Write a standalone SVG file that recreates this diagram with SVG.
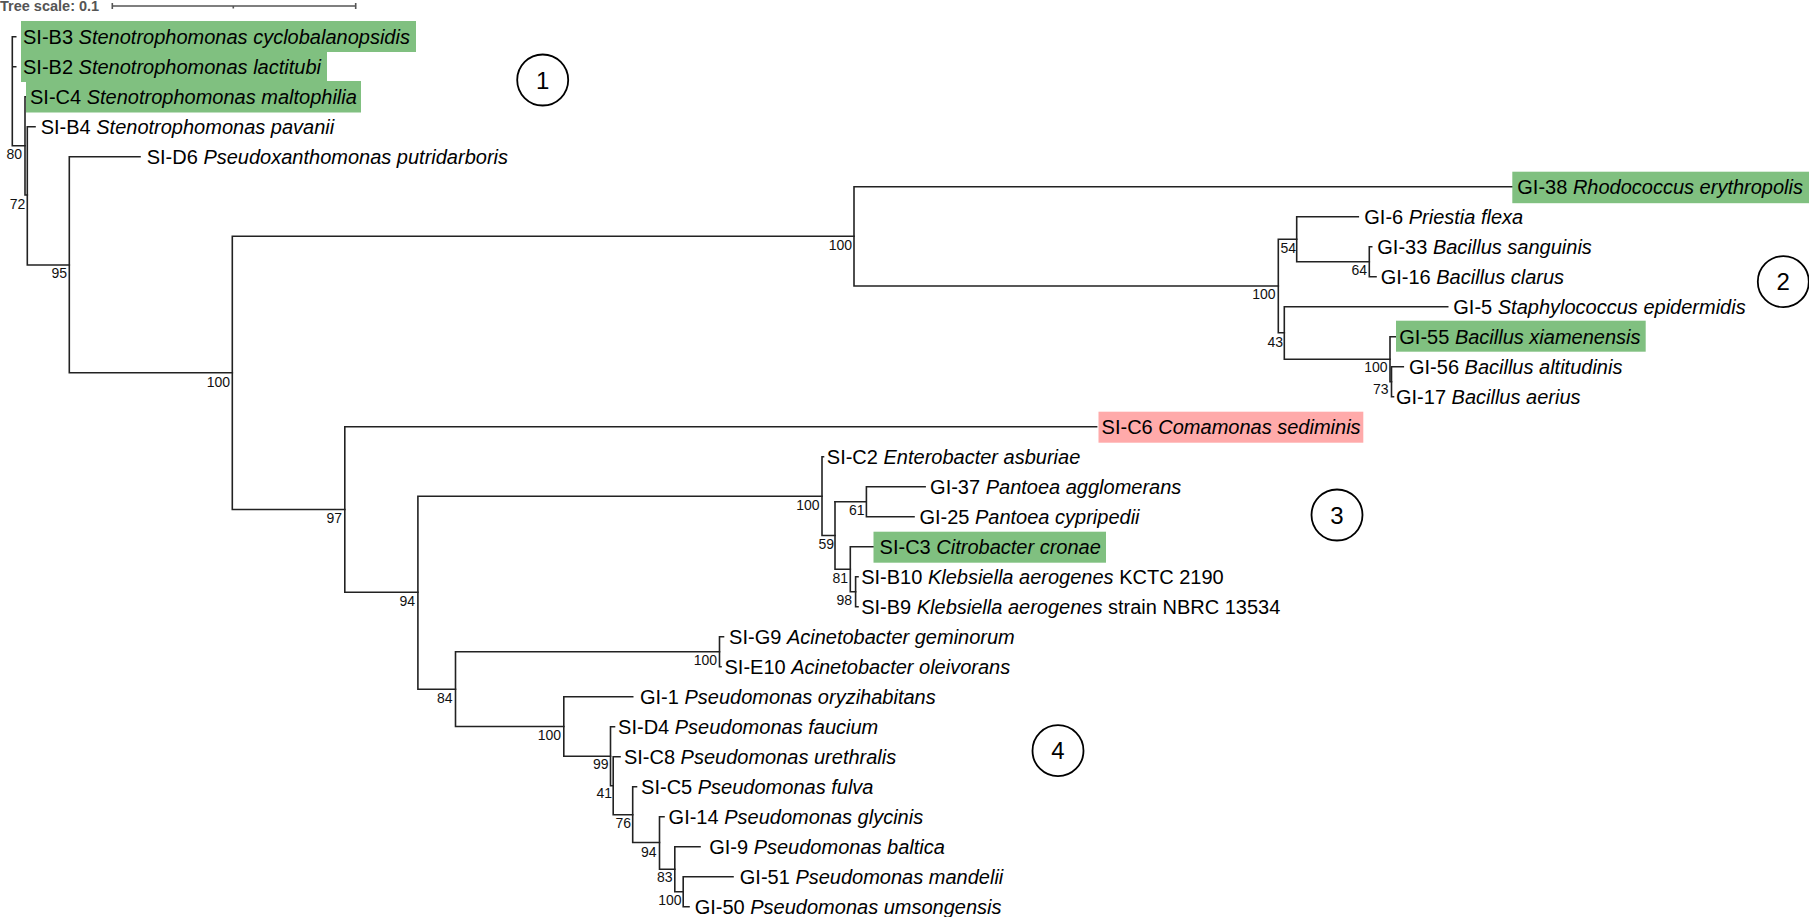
<svg xmlns="http://www.w3.org/2000/svg" width="1809" height="917" viewBox="0 0 1809 917">
<style>
  .br { fill: none; stroke: #222; stroke-width: 1.6; stroke-linecap: square; }
  .lbl { font-family: "Liberation Sans", Arial, sans-serif; font-size: 20px; fill: #000; }
  .it { font-style: italic; }
  .sup { font-family: "Liberation Sans", Arial, sans-serif; font-size: 14px; fill: #111; text-anchor: end; }
  .hg { fill: #80c080; }
  .hp { fill: #ffaaaa; }
  .circ { fill: none; stroke: #000; stroke-width: 1.8; }
  .cnum { font-family: "Liberation Sans", Arial, sans-serif; font-size: 24px; fill: #000; text-anchor: middle; }
  .scale { stroke: #555; stroke-width: 1.6; fill: none; }
  .stxt { font-family: "Liberation Sans", Arial, sans-serif; font-size: 14.5px; font-weight: bold; fill: #555; }
</style>

<g id="tree-scale">
  <text class="stxt" x="0" y="11">Tree scale: 0.1</text>
  <path class="scale" d="M112.3 6H355.7 M112.3 3V9 M355.7 3V9 M233.3 6V8.5"/>
</g>

<g id="connectors">
  <path class="br" d="M15.7 36.7H12.3V145.7H25 M12.3 66.7H15.7"/>
  <path class="br" d="M25.8 96.7H25V195H27.3"/>
  <path class="br" d="M35 126.7H27.3V265H69.3"/>
  <path class="br" d="M140 156.7H69.3V372.7H232.3"/>
  <path class="br" d="M854 236.3H232.3V509.5H344.8"/>
  <path class="br" d="M1512.3 186.7H854V286H1278.3"/>
  <path class="br" d="M1296.7 239.3H1278.3V332.7H1284.3"/>
  <path class="br" d="M1358.3 216.7H1296.7V261.7H1369.3"/>
  <path class="br" d="M1371.7 246.7H1369.3V276.7H1376"/>
  <path class="br" d="M1447.7 306.7H1284.3V359.2H1390"/>
  <path class="br" d="M1396 336.7H1390V381.7H1391.5"/>
  <path class="br" d="M1403.3 366.7H1391.5V396.7H1393.5"/>
  <path class="br" d="M1096.6 426.7H344.8V592.3H417.9"/>
  <path class="br" d="M822 496.2H417.9V689.2H455.5"/>
  <path class="br" d="M823.5 456.7H822V535.5H835"/>
  <path class="br" d="M925.1 486.7H866.4V516.7H914 M835 501.7H866.4"/>
  <path class="br" d="M835 501.7V569.2H850.3"/>
  <path class="br" d="M873.5 546.7H850.3V591.7H855.6"/>
  <path class="br" d="M858 576.7H855.6V606.7H858"/>
  <path class="br" d="M719.5 651.7H455.5V726.5H563.8"/>
  <path class="br" d="M723.5 636.7H719.5V666.7H721"/>
  <path class="br" d="M632.7 696.7H563.8V756.2H610.5"/>
  <path class="br" d="M614.5 726.7H610.5V785.7H613.2"/>
  <path class="br" d="M620 756.7H613.2V814.7H632.7"/>
  <path class="br" d="M636.5 786.7H632.7V842.5H659.5"/>
  <path class="br" d="M664 816.7H659.5V869.2H674.8"/>
  <path class="br" d="M700 846.7H674.8V891.7H683.2"/>
  <path class="br" d="M733 876.7H683.2V906.7H689"/>
</g>

<g id="leaf-SI-B3"><rect class="hg" x="21" y="21" width="395" height="31"/><text class="lbl" x="23" y="43.7">SI-B3 <tspan class="it">Stenotrophomonas cyclobalanopsidis</tspan></text></g>
<g id="leaf-SI-B2"><rect class="hg" x="21" y="52" width="306" height="30"/><text class="lbl" x="23" y="73.7">SI-B2 <tspan class="it">Stenotrophomonas lactitubi</tspan></text></g>
<g id="leaf-SI-C4"><rect class="hg" x="26" y="81" width="335" height="31.5"/><text class="lbl" x="30" y="103.7">SI-C4 <tspan class="it">Stenotrophomonas maltophilia</tspan></text></g>
<g id="leaf-SI-B4"><text class="lbl" x="40.7" y="133.7">SI-B4 <tspan class="it">Stenotrophomonas pavanii</tspan></text></g>
<g id="leaf-SI-D6"><text class="lbl" x="146.7" y="163.7">SI-D6 <tspan class="it">Pseudoxanthomonas putridarboris</tspan></text></g>
<g id="leaf-GI-38"><rect class="hg" x="1512.3" y="171.7" width="296.7" height="31.5"/><text class="lbl" x="1517.3" y="193.7">GI-38 <tspan class="it">Rhodococcus erythropolis</tspan></text></g>
<g id="leaf-GI-6"><text class="lbl" x="1364.3" y="223.7">GI-6 <tspan class="it">Priestia flexa</tspan></text></g>
<g id="leaf-GI-33"><text class="lbl" x="1377.3" y="253.7">GI-33 <tspan class="it">Bacillus sanguinis</tspan></text></g>
<g id="leaf-GI-16"><text class="lbl" x="1380.7" y="283.7">GI-16 <tspan class="it">Bacillus clarus</tspan></text></g>
<g id="leaf-GI-5"><text class="lbl" x="1453.3" y="313.7">GI-5 <tspan class="it">Staphylococcus epidermidis</tspan></text></g>
<g id="leaf-GI-55"><rect class="hg" x="1396" y="320.7" width="249.7" height="31"/><text class="lbl" x="1399.3" y="343.7">GI-55 <tspan class="it">Bacillus xiamenensis</tspan></text></g>
<g id="leaf-GI-56"><text class="lbl" x="1409" y="373.7">GI-56 <tspan class="it">Bacillus altitudinis</tspan></text></g>
<g id="leaf-GI-17"><text class="lbl" x="1396" y="403.7">GI-17 <tspan class="it">Bacillus aerius</tspan></text></g>
<g id="leaf-SI-C6"><rect class="hp" x="1098.5" y="411.7" width="264.8" height="31"/><text class="lbl" x="1101.6" y="433.7">SI-C6 <tspan class="it">Comamonas sediminis</tspan></text></g>
<g id="leaf-SI-C2"><text class="lbl" x="826.8" y="463.7">SI-C2 <tspan class="it">Enterobacter asburiae</tspan></text></g>
<g id="leaf-GI-37"><text class="lbl" x="930.1" y="493.7">GI-37 <tspan class="it">Pantoea agglomerans</tspan></text></g>
<g id="leaf-GI-25"><text class="lbl" x="919.4" y="523.7">GI-25 <tspan class="it">Pantoea cypripedii</tspan></text></g>
<g id="leaf-SI-C3"><rect class="hg" x="873.5" y="531.7" width="232.5" height="31"/><text class="lbl" x="879.6" y="553.7">SI-C3 <tspan class="it">Citrobacter cronae</tspan></text></g>
<g id="leaf-SI-B10"><text class="lbl" x="861.2" y="583.7">SI-B10 <tspan class="it">Klebsiella aerogenes</tspan> KCTC 2190</text></g>
<g id="leaf-SI-B9"><text class="lbl" x="861.2" y="613.7">SI-B9 <tspan class="it">Klebsiella aerogenes</tspan> strain NBRC 13534</text></g>
<g id="leaf-SI-G9"><text class="lbl" x="729.1" y="643.7">SI-G9 <tspan class="it">Acinetobacter geminorum</tspan></text></g>
<g id="leaf-SI-E10"><text class="lbl" x="724.5" y="673.7">SI-E10 <tspan class="it">Acinetobacter oleivorans</tspan></text></g>
<g id="leaf-GI-1"><text class="lbl" x="640" y="703.7">GI-1 <tspan class="it">Pseudomonas oryzihabitans</tspan></text></g>
<g id="leaf-SI-D4"><text class="lbl" x="618.1" y="733.7">SI-D4 <tspan class="it">Pseudomonas faucium</tspan></text></g>
<g id="leaf-SI-C8"><text class="lbl" x="623.9" y="763.7">SI-C8 <tspan class="it">Pseudomonas urethralis</tspan></text></g>
<g id="leaf-SI-C5"><text class="lbl" x="641.1" y="793.7">SI-C5 <tspan class="it">Pseudomonas fulva</tspan></text></g>
<g id="leaf-GI-14"><text class="lbl" x="668.6" y="823.7">GI-14 <tspan class="it">Pseudomonas glycinis</tspan></text></g>
<g id="leaf-GI-9"><text class="lbl" x="709.2" y="853.7">GI-9 <tspan class="it">Pseudomonas baltica</tspan></text></g>
<g id="leaf-GI-51"><text class="lbl" x="739.8" y="883.7">GI-51 <tspan class="it">Pseudomonas mandelii</tspan></text></g>
<g id="leaf-GI-50"><text class="lbl" x="694.7" y="913.7">GI-50 <tspan class="it">Pseudomonas umsongensis</tspan></text></g>

<g id="supports">
  <g id="node-80"><text class="sup" x="22" y="159">80</text></g>
  <g id="node-72"><text class="sup" x="25.3" y="209">72</text></g>
  <g id="node-95"><text class="sup" x="67" y="278">95</text></g>
  <g id="node-100a"><text class="sup" x="230" y="386.7">100</text></g>
  <g id="node-100b"><text class="sup" x="852" y="250">100</text></g>
  <g id="node-100c"><text class="sup" x="1275.5" y="299">100</text></g>
  <g id="node-54"><text class="sup" x="1296" y="252.7">54</text></g>
  <g id="node-64"><text class="sup" x="1367" y="275">64</text></g>
  <g id="node-43"><text class="sup" x="1283" y="346.7">43</text></g>
  <g id="node-100d"><text class="sup" x="1387.5" y="372.3">100</text></g>
  <g id="node-73"><text class="sup" x="1388.5" y="394.3">73</text></g>
  <g id="node-97"><text class="sup" x="342" y="522.7">97</text></g>
  <g id="node-94a"><text class="sup" x="415" y="606">94</text></g>
  <g id="node-100e"><text class="sup" x="819.5" y="510">100</text></g>
  <g id="node-59"><text class="sup" x="834" y="549">59</text></g>
  <g id="node-61"><text class="sup" x="864.5" y="515">61</text></g>
  <g id="node-81"><text class="sup" x="848" y="583.3">81</text></g>
  <g id="node-98"><text class="sup" x="852" y="605">98</text></g>
  <g id="node-84"><text class="sup" x="452.5" y="702.7">84</text></g>
  <g id="node-100f"><text class="sup" x="717" y="665">100</text></g>
  <g id="node-100g"><text class="sup" x="561" y="740">100</text></g>
  <g id="node-99"><text class="sup" x="608.6" y="769.3">99</text></g>
  <g id="node-41"><text class="sup" x="612" y="798.3">41</text></g>
  <g id="node-76"><text class="sup" x="631" y="827.7">76</text></g>
  <g id="node-94b"><text class="sup" x="656.5" y="856.7">94</text></g>
  <g id="node-83"><text class="sup" x="672.5" y="881.7">83</text></g>
  <g id="node-100h"><text class="sup" x="681.5" y="905">100</text></g>
</g>

<g id="group-1"><circle class="circ" cx="542.7" cy="80" r="25.5"/><text class="cnum" x="542.7" y="88.5">1</text></g>
<g id="group-2"><circle class="circ" cx="1783.3" cy="281.7" r="25.5"/><text class="cnum" x="1783.3" y="290.2">2</text></g>
<g id="group-3"><circle class="circ" cx="1337" cy="515" r="25.5"/><text class="cnum" x="1337" y="523.5">3</text></g>
<g id="group-4"><circle class="circ" cx="1058" cy="750.7" r="25.5"/><text class="cnum" x="1058" y="759.2">4</text></g>
</svg>
